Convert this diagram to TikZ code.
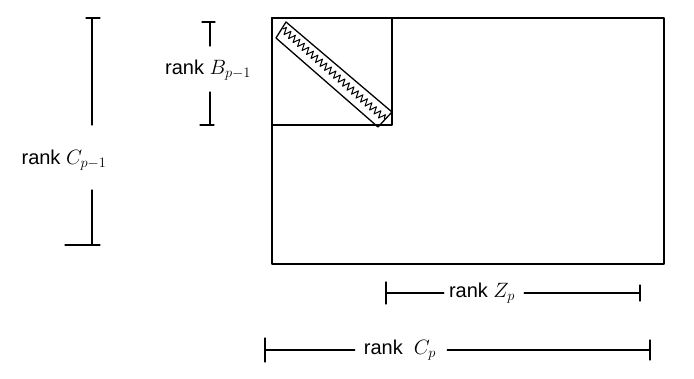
\documentclass[tikz,border=0pt]{standalone}
\usepackage{fontspec}
\setmainfont{Liberation Sans}
\usetikzlibrary{decorations.pathmorphing}
\begin{document}
\begin{tikzpicture}[x=1pt,y=-1pt,
  pen/.style={line width=1.3pt,line cap=round,line join=round,black},
  lbl/.style={font=\fontsize{20}{20}\selectfont,inner sep=1pt},
  zz/.style={pen,line width=1pt,decorate,decoration={zigzag,segment length=6pt,amplitude=3.5pt}}]
\useasboundingbox (0,0) rectangle (694,378);
% big rectangle and small square
\node[pen,draw,minimum width=392pt,minimum height=246pt,inner sep=0pt] (big) at (468,141) {};
\node[pen,draw,minimum width=120pt,minimum height=107pt,inner sep=0pt,anchor=north west] (sq) at (big.north west) {};
% diagonal band
\coordinate (b1) at (286,22);
\coordinate (b2) at (392,112);
\coordinate (b3) at (378,127);
\coordinate (b4) at (276,38);
\draw[pen] (b1) -- (b2) -- (b3) -- (b4) -- cycle;
\coordinate (z1) at (283,29);
\coordinate (z2) at (385,119);
\draw[zz] (z1) -- (z2);
% rank C_{p-1}
\node[lbl] (lcp1) at (64,160) {rank $C_{p-1}$};
\coordinate (c1t) at (92,18);
\coordinate (c1b) at (92,245);
\draw[pen] ([xshift=-6pt]c1t) -- ([xshift=8pt]c1t);
\draw[pen] (c1t) -- (92,125);
\draw[pen] (92,190) -- (c1b);
\draw[pen] ([xshift=-27pt]c1b) -- ([xshift=8pt]c1b);
% rank B_{p-1}
\node[lbl] (lbp1) at (208,70) {rank $B_{p-1}$};
\coordinate (btt) at (210,22);
\coordinate (bbb) at (210,125);
\draw[pen] ([xshift=-8pt]btt) -- ([xshift=5pt]btt);
\draw[pen] (btt) -- (210,46);
\draw[pen] (210,92) -- (bbb);
\draw[pen] ([xshift=-10pt]bbb) -- ([xshift=4pt]bbb);
% rank Z_p
\node[lbl] (lzp) at (482,293) {rank $Z_p$};
\coordinate (zl) at (386,293);
\coordinate (zr) at (640,293);
\draw[pen] (zl) -- ([xshift=-4pt]lzp.west);
\draw[pen] ([xshift=8pt]lzp.east) -- (zr);
\draw[pen] ([yshift=-11pt]zl) -- ([yshift=11pt]zl);
\draw[pen] ([yshift=-8pt]zr) -- ([yshift=8pt]zr);
% rank C_p
\node[lbl] (lcp) at (400,350) {rank \ $C_p$};
\coordinate (cl) at (265,350);
\coordinate (cr) at (650,350);
\draw[pen] (cl) -- ([xshift=-8pt]lcp.west);
\draw[pen] ([xshift=10pt]lcp.east) -- (cr);
\draw[pen] ([yshift=-12pt]cl) -- ([yshift=12pt]cl);
\draw[pen] ([yshift=-10pt]cr) -- ([yshift=10pt]cr);
\end{tikzpicture}
\end{document}
